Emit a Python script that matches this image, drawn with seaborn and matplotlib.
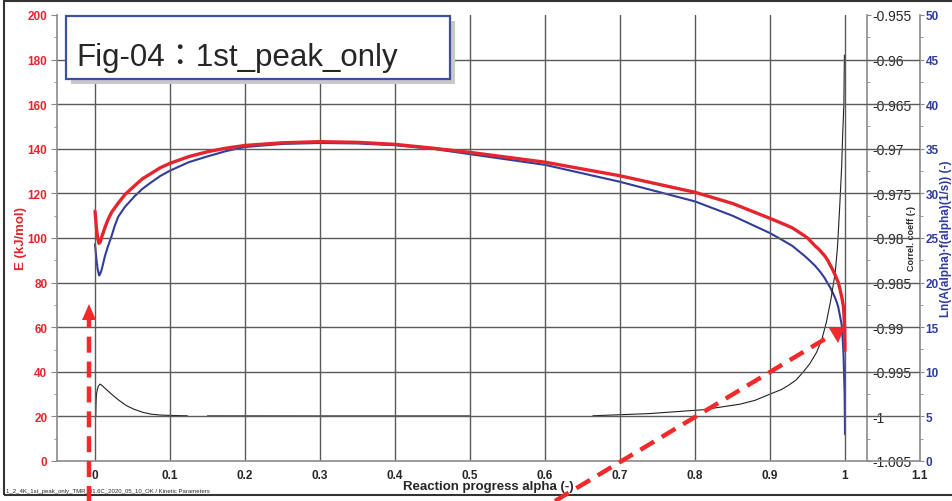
import matplotlib
matplotlib.use("Agg")
import matplotlib.pyplot as plt
import seaborn as sns
import pandas as pd
from matplotlib.patches import Rectangle, Polygon
from matplotlib.lines import Line2D

# activation energy E (kJ/mol) vs conversion
alpha_e = [0.0, 0.002, 0.0035, 0.0053, 0.007, 0.009, 0.011, 0.0133, 0.017, 0.022, 0.031, 0.04,
           0.053, 0.063, 0.075, 0.087, 0.1, 0.125, 0.15, 0.175, 0.2,
           0.25, 0.3, 0.35, 0.4, 0.45, 0.5, 0.6, 0.7, 0.8, 0.85, 0.9, 0.92, 0.93, 0.946, 0.95,
           0.96, 0.965, 0.973, 0.977, 0.98, 0.984, 0.987, 0.989, 0.991, 0.993, 0.996, 0.998,
           0.9995, 1.0]
e_vals = [112, 104, 100, 97.6, 98.3, 100.5, 102.5, 104.8, 108, 111.5, 115.7, 119.5,
          123.5, 126.5, 129, 131.5, 133.5, 136.5, 138.7, 140.3, 141.5,
          142.7, 143.2, 142.9, 142, 140.3, 138.4, 134, 127.9, 120.5, 115.5, 108.8, 106, 104.5, 101, 100,
          96.5, 95, 92, 90, 88, 85.5, 83.3, 81.7, 80, 77.5, 73, 69,
          60, 49.5]

# Ln(A(alpha)*f(alpha)) (-)
alpha_ln = [0.0, 0.002, 0.0035, 0.0055, 0.007, 0.009, 0.011, 0.0133, 0.017, 0.022, 0.026, 0.031,
            0.04, 0.053, 0.063, 0.075, 0.087, 0.1, 0.125, 0.15, 0.175, 0.2,
            0.25, 0.3, 0.35, 0.4, 0.45, 0.5, 0.6, 0.7, 0.8, 0.85, 0.9, 0.92, 0.93, 0.946, 0.95,
            0.96, 0.967, 0.973, 0.977, 0.98, 0.984, 0.987, 0.989, 0.991, 0.993, 0.9956, 0.997,
            0.998, 0.9995, 1.0]
ln_vals = [24.3, 22.5, 21.5, 20.8, 21.0, 21.5, 22.2, 23.0, 24.0, 25.2, 26.3, 27.4,
           28.5, 29.7, 30.5, 31.25, 31.95, 32.55, 33.5, 34.15, 34.75, 35.2,
           35.55, 35.65, 35.6, 35.4, 35.0, 34.4, 33.2, 31.3, 29.1, 27.5, 25.55, 24.6, 24.1, 23.0, 22.7,
           21.9, 21.2, 20.5, 19.9, 19.5, 18.8, 18.25, 17.8, 17.25, 16.4, 15.25, 13.5,
           12.0, 7.5, 3.0]

# correlation coefficient, three separate pieces
alpha_corr = [0.001, 0.0012, 0.0015, 0.002, 0.003, 0.0045, 0.0067, 0.009, 0.012, 0.018, 0.0244,
              0.032, 0.042, 0.052, 0.064, 0.075, 0.087, 0.105, 0.123,
              0.15, 0.3, 0.5,
              0.664, 0.74, 0.811, 0.86, 0.88, 0.9, 0.915, 0.925, 0.935, 0.944, 0.953, 0.962,
              0.969, 0.975, 0.981, 0.987, 0.99, 0.993, 0.9956, 0.997, 0.9985, 0.9992]
corr_vals = [-1.0, -0.999, -0.99825, -0.9975, -0.997, -0.9966, -0.99638, -0.9965, -0.99675,
             -0.9972, -0.99768, -0.9982, -0.9988, -0.9992, -0.99955, -0.99975, -0.99985,
             -0.9999, -0.99993,
             -0.99994, -0.99995, -0.99995,
             -0.99993, -0.99968, -0.99925, -0.99863, -0.9982, -0.9975, -0.997, -0.9965, -0.9959,
             -0.99505, -0.9941, -0.99283, -0.9914, -0.9895, -0.987, -0.98385, -0.981, -0.97638,
             -0.9719, -0.96815, -0.965, -0.9595]
corr_seg = [1] * 19 + [2] * 3 + [3] * 22

x_ticks = [0, 0.1, 0.2, 0.3, 0.4, 0.5, 0.6, 0.7, 0.8, 0.9, 1.0, 1.1]
x_labels = ["0", "0.1", "0.2", "0.3", "0.4", "0.5", "0.6", "0.7", "0.8", "0.9", "1", "1.1"]
e_ticks = list(range(0, 201, 20))
ln_ticks = list(range(0, 51, 5))
corr_ticks = [-1.005, -1.0, -0.995, -0.99, -0.985, -0.98, -0.975, -0.97, -0.965, -0.96, -0.955]
corr_labels = ["-1.005", "-1", "-0.995", "-0.99", "-0.985", "-0.98", "-0.975", "-0.97",
               "-0.965", "-0.96", "-0.955"]

RED = "#e3262d"
BLUE = "#2f3c9c"
GRID = "#5a5a5a"
SPINE = "#8a8a8a"

sns.set_style("white")
plt.rcParams["font.family"] = ["Liberation Sans", "Noto Sans CJK JP", "DejaVu Sans"]

W, H = 953, 502
fig = plt.figure(figsize=(W / 100, H / 100), dpi=100)
fig.patch.set_facecolor("white")
ax = fig.add_axes([57 / W, 1 - 462 / H, (920 - 57) / W, (462 - 16) / H])
ax_ln = ax.twinx()
ax_corr = ax.twinx()
ax_ln.set_zorder(1)
ax_corr.set_zorder(2)
ax.set_zorder(3)
ax.patch.set_visible(False)

# curves
sns.lineplot(x=alpha_ln, y=ln_vals, ax=ax_ln, color=BLUE, linewidth=1.5, sort=False)
corr_df = pd.DataFrame({"alpha": alpha_corr, "corr": corr_vals, "seg": corr_seg})
sns.lineplot(data=corr_df, x="alpha", y="corr", units="seg", estimator=None,
             ax=ax_corr, color="#222222", linewidth=0.8, sort=False)
sns.lineplot(x=alpha_e, y=e_vals, ax=ax, color=RED, linewidth=2.4, sort=False)

# main axis
ax.set_xlim(-0.0507, 1.1)
ax.set_ylim(0, 200)
ax.set_xticks(x_ticks)
ax.set_xticklabels(x_labels, fontsize=8.5, fontweight="bold")
ax.set_xticks([0.05 + 0.1 * i for i in range(11)], minor=True)
ax.set_yticks(e_ticks)
ax.set_yticklabels([str(v) for v in e_ticks], fontsize=8.5, fontweight="bold", color=RED)
ax.set_yticks(list(range(10, 200, 20)), minor=True)
ax.tick_params(axis="x", which="major", length=0, pad=6)
ax.tick_params(axis="x", which="minor", length=3, direction="in", color=SPINE)
ax.tick_params(axis="y", which="major", length=4, color=SPINE, pad=3)
ax.tick_params(axis="y", which="minor", length=2, color=SPINE)
ax.grid(True, which="major", color=GRID, linewidth=1.0)
ax.get_ygridlines()[-1].set_visible(False)
ax.get_ygridlines()[0].set_visible(False)
ax.get_xgridlines()[-1].set_visible(False)
for s in ["top", "right"]:
    ax.spines[s].set_visible(False)
for s in ["left", "bottom"]:
    ax.spines[s].set_color(SPINE)
    ax.spines[s].set_linewidth(1.2)
ax.set_xlabel("Reaction progress alpha (-)", fontsize=9.5, fontweight="bold")
ax.xaxis.set_label_coords(0.5, -0.042)
ax.set_ylabel("E (kJ/mol)", fontsize=9.5, fontweight="bold", color=RED)
ax.yaxis.set_label_coords((27 - 57) / (920 - 57), 0.5)

# ln axis (far right)
ax_ln.set_ylim(0, 50)
ax_ln.set_yticks(ln_ticks)
ax_ln.set_yticklabels([str(v) for v in ln_ticks], fontsize=8.5, fontweight="bold", color=BLUE)
ax_ln.set_yticks([2.5 + 5 * i for i in range(10)], minor=True)
ax_ln.tick_params(axis="y", which="major", length=3, color=SPINE, pad=1)
ax_ln.tick_params(axis="y", which="minor", length=2, color=SPINE)
for s in ["top", "left", "bottom"]:
    ax_ln.spines[s].set_visible(False)
ax_ln.spines["right"].set_color(SPINE)
ax_ln.spines["right"].set_linewidth(1.2)
ax_ln.set_ylabel("Ln(A(alpha)·f(alpha)(1/s)) (-)", fontsize=8.5, fontweight="bold", color=BLUE)
ax_ln.yaxis.set_label_coords((940.5 - 57) / (920 - 57), 0.5)

# correlation axis
ax_corr.set_ylim(-1.005, -0.955)
ax_corr.set_yticks(corr_ticks)
ax_corr.set_yticklabels(corr_labels, fontsize=6.5, fontweight="bold")
ax_corr.set_yticks([-1.0025 + 0.005 * i for i in range(10)], minor=True)
ax_corr.tick_params(axis="y", which="major", length=3, color=SPINE, pad=1)
ax_corr.tick_params(axis="y", which="minor", length=2, color=SPINE)
for s in ["top", "left", "bottom"]:
    ax_corr.spines[s].set_visible(False)
ax_corr.spines["right"].set_position(("axes", (867 - 57) / (920 - 57)))
ax_corr.spines["right"].set_color(SPINE)
ax_corr.spines["right"].set_linewidth(1.2)
ax_corr.set_ylabel("Correl. coeff (-)", fontsize=6.5, fontweight="bold")
ax_corr.yaxis.set_label_coords((907 - 57) / (920 - 57), 0.5)
ax_corr.set_xlabel("")
ax_ln.set_xlabel("")


def fx(px):
    return px / W


def fy(py):
    return 1 - py / H


# title box with shadow
fig.add_artist(Rectangle((fx(71), fy(85)), fx(450) - fx(66), fy(17) - fy(80),
                         transform=fig.transFigure, facecolor="#c9c9c9", edgecolor="none", zorder=10))
fig.add_artist(Rectangle((fx(66), fy(80)), fx(450) - fx(66), fy(17) - fy(80),
                         transform=fig.transFigure, facecolor="white", edgecolor="#3d4fa3",
                         linewidth=1.6, zorder=11))
fig.text(fx(76), fy(58), "Fig-04：1st_peak_only", fontsize=22.5, va="center", ha="left", zorder=12)

# red dashed arrows
fig.add_artist(Line2D([fx(89), fx(89)], [fy(505), fy(318)], transform=fig.transFigure,
                      color="#f02a2a", linewidth=3.2, dashes=(3.6, 2.0), zorder=9))
fig.add_artist(Polygon([[fx(89), fy(305)], [fx(82), fy(321)], [fx(96), fy(321)]],
                       closed=True, transform=fig.transFigure, facecolor="#f02a2a",
                       edgecolor="none", zorder=9))
fig.add_artist(Line2D([fx(555), fx(830)], [fy(502), fy(337)], transform=fig.transFigure,
                      color="#f02a2a", linewidth=3.2, dashes=(3.6, 2.0), zorder=9))
fig.add_artist(Polygon([[fx(845), fy(328)], [fx(829), fy(329)], [fx(838), fy(344)]],
                       closed=True, transform=fig.transFigure, facecolor="#f02a2a",
                       edgecolor="none", zorder=9))

# outer frame and file note
fig.add_artist(Rectangle((fx(4), fy(496)), fx(960) - fx(4), fy(2) - fy(496),
                         transform=fig.transFigure, facecolor="none", edgecolor="#333333",
                         linewidth=1.5, zorder=8))
fig.text(fx(6), fy(492), "1_2_4K_1st_peak_only_TMR_81.6C_2020_05_10_OK / Kinetic Parameters",
         fontsize=4.3, va="center", ha="left")

fig.savefig("out.png", dpi=100)
